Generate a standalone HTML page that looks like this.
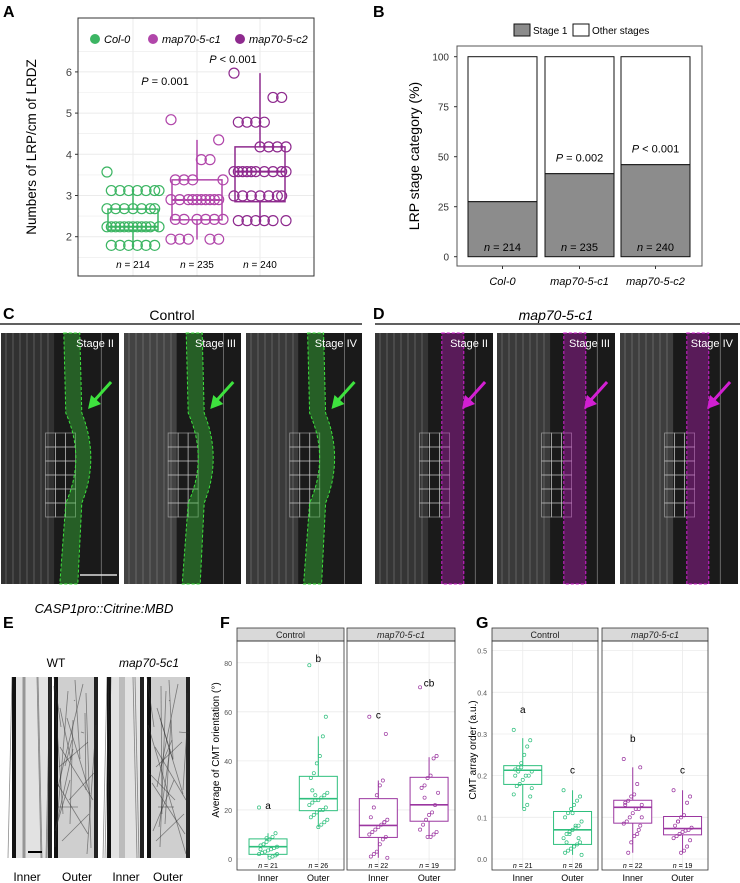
<!DOCTYPE html>
<html><head><meta charset="utf-8"><style>
body{margin:0;background:#fff}
svg{display:block;font-family:"Liberation Sans",Arial,sans-serif}
</style></head><body>
<svg id="fig" width="740" height="883" viewBox="0 0 740 883" xmlns="http://www.w3.org/2000/svg">
<text x="3" y="17" font-size="16" font-weight="bold">A</text>
<text x="373" y="17" font-size="16" font-weight="bold">B</text>
<text x="3" y="319" font-size="16" font-weight="bold">C</text>
<text x="373" y="319" font-size="16" font-weight="bold">D</text>
<text x="3" y="628" font-size="16" font-weight="bold">E</text>
<text x="220" y="628" font-size="16" font-weight="bold">F</text>
<text x="476" y="628" font-size="16" font-weight="bold">G</text>

<g id="pa"></g>
<g id="pb"></g>

<text x="172" y="320" font-size="14" text-anchor="middle">Control</text>
<line x1="0" y1="324" x2="362" y2="324" stroke="#000" stroke-width="1.2"/>
<text x="556" y="320" font-size="14" font-style="italic" text-anchor="middle">map70-5-c1</text>
<line x1="375" y1="324" x2="740" y2="324" stroke="#000" stroke-width="1.2"/>
<g id="micro"></g>

<text x="104" y="613" font-size="13" font-style="italic" text-anchor="middle">CASP1pro::Citrine:MBD</text>
<text x="56" y="667" font-size="12" text-anchor="middle">WT</text>
<text x="149" y="667" font-size="12" font-style="italic" text-anchor="middle">map70-5c1</text>
<g id="pe"></g>
<text x="27" y="881" font-size="12" text-anchor="middle">Inner</text>
<text x="77" y="881" font-size="12" text-anchor="middle">Outer</text>
<text x="126" y="881" font-size="12" text-anchor="middle">Inner</text>
<text x="168" y="881" font-size="12" text-anchor="middle">Outer</text>

<g id="pf"></g>
<g id="pg"></g>
</svg>
<script>
const aGroups = ["Col-0","map70-5-c1","map70-5-c2"];
const aColors = ["#3cb563","#b146aa","#8e2a8e"];
const aCol0 = [3.57,3.12,3.12,3.12,3.12,3.12,3.12,3.12,2.68,2.68,2.68,2.68,2.68,2.68,2.68,2.24,2.24,2.24,2.24,2.24,2.24,2.24,2.24,2.24,2.24,2.24,2.24,1.79,1.79,1.79,1.79,1.79,1.79];
const aC1 = [4.84,4.35,3.87,3.87,3.38,3.38,3.38,3.38,2.9,2.9,2.9,2.9,2.9,2.9,2.9,2.9,2.9,2.9,2.42,2.42,2.42,2.42,2.42,2.42,1.94,1.94,1.94,1.94,1.94];
const aC2 = [5.97,5.38,5.38,4.78,4.78,4.78,4.78,4.18,4.18,4.18,4.18,3.58,3.58,3.58,3.58,3.58,3.58,3.58,3.58,3.58,3.58,2.99,2.99,2.99,2.99,2.99,2.99,2.99,2.39,2.39,2.39,2.39,2.39,2.39];
const aQ1 = [2.16,2.41,2.85];
const aMed = [2.24,2.89,3.58];
const aQ3 = [2.67,3.38,4.18];
const aLo = [1.8,1.93,2.38];
const aHi = [3.1,4.35,5.97];
const aN = ["214","235","240"];
const aTicks = [2,3,4,5,6];
const bGroups = ["Col-0","map70-5-c1","map70-5-c2"];
const bStage1 = [27.5,41.5,46];
const bTicks = [0,25,50,75,100];
const bP = ["","P = 0.002","P < 0.001"];
const fCats = ["Inner","Outer"];
const fQ1 = [1.9,19.7,8.8,15.4];
const fMed = [5.0,24.6,13.7,22.1];
const fQ3 = [8.2,33.7,24.6,33.3];
const fLo = [0.5,13,0.5,8.5];
const fHi = [10.5,50,32,41.5];
const fLetters = ["a","b","c","cb"];
const fLetterY = [22,82,59,72];
const fN = ["21","26","22","19"];
const fPts = [[21,10.5,9,8,7,6,5.5,5,4.5,4,3.5,3,2.5,2,1.5,1,0.5,8.5,6,4,2],
  [79,58,50,42,39,35,33,27,26,25,24,24,23,22,21,20,20,19,18,17,16,15,14,13,26,28],
  [58,51,32,30,26,21,17,16,15,14,13,12,11,10,9,8,6,3,2,1,0.5,15],
  [70,42,41,34,33,30,29,27,22,19,18,16,14,12,11,10,9,9,25]];
const fTicks = [0,20,40,60,80];
const gQ1 = [0.179,0.035,0.086,0.058];
const gMed = [0.213,0.070,0.124,0.073];
const gQ3 = [0.224,0.114,0.141,0.102];
const gLo = [0.122,0.01,0.015,0.015];
const gHi = [0.29,0.165,0.22,0.165];
const gLetters = ["a","c","b","c"];
const gLetterY = [0.36,0.215,0.29,0.215];
const gN = ["21","26","22","19"];
const gPts = [[0.31,0.285,0.27,0.25,0.23,0.22,0.215,0.21,0.2,0.2,0.19,0.18,0.175,0.155,0.15,0.13,0.12,0.22,0.21,0.2,0.17],
  [0.165,0.15,0.14,0.13,0.12,0.11,0.1,0.09,0.08,0.075,0.07,0.065,0.06,0.05,0.04,0.035,0.03,0.025,0.02,0.015,0.01,0.05,0.08,0.11,0.06,0.04],
  [0.24,0.22,0.18,0.155,0.15,0.14,0.135,0.13,0.12,0.12,0.11,0.1,0.09,0.085,0.08,0.06,0.055,0.04,0.015,0.13,0.1,0.07],
  [0.165,0.15,0.135,0.105,0.1,0.09,0.08,0.075,0.07,0.068,0.065,0.06,0.055,0.05,0.045,0.03,0.02,0.015,0.09]];
const gTicks = [0,0.1,0.2,0.3,0.4,0.5];

const NS="http://www.w3.org/2000/svg";
function mk(parent,tag,attrs,txt){const e=document.createElementNS(NS,tag);for(const k in attrs)e.setAttribute(k,attrs[k]);if(txt!==undefined)e.textContent=txt;parent.appendChild(e);return e;}
function jit(i,w){return (((i*37)%13)-6)/6*w;}

(function(){
 const g=document.getElementById('pa');
 const y=v=>236.7-(v-2)*41.2;
 const xs=[133,197,260];
 const x0=78,x1=314,y0=18,y1=276;
 mk(g,'rect',{x:x0,y:y0,width:x1-x0,height:y1-y0,fill:'#fff'});
 for(let v=1.5;v<=6.5;v+=0.5){const l=mk(g,'line',{x1:x0,x2:x1,y1:y(v),y2:y(v),stroke:'#ebebeb','stroke-width':v%1?0.6:1});}
 xs.forEach(x=>{mk(g,'line',{x1:x,x2:x,y1:y0,y2:y1,stroke:'#ebebeb','stroke-width':1});});
 mk(g,'rect',{x:x0,y:y0,width:x1-x0,height:y1-y0,fill:'none',stroke:'#333','stroke-width':1});
 aTicks.forEach(t=>{const tx=mk(g,'text',{x:x0-6,y:y(t)+4,'font-size':11,'text-anchor':'end',fill:'#444'},String(t));mk(g,'line',{x1:x0-3,x2:x0,y1:y(t),y2:y(t),stroke:'#333'});});
 const yt=mk(g,'text',{x:0,y:0,'font-size':13.5,'text-anchor':'middle',transform:'translate(36,147) rotate(-90)'},'Numbers of LRP/cm of LRDZ');
 
 const sets=[aCol0,aC1,aC2];
 sets.forEach((arr,gi)=>{
  const c=aColors[gi],x=xs[gi];
  const bx=mk(g,'g',{});
  mk(bx,'line',{x1:x,x2:x,y1:y(aHi[gi]),y2:y(aQ3[gi]),stroke:c,'stroke-width':1.5});
  mk(bx,'line',{x1:x,x2:x,y1:y(aQ1[gi]),y2:y(aLo[gi]),stroke:c,'stroke-width':1.5});
  mk(bx,'rect',{x:x-25,y:y(aQ3[gi]),width:50,height:y(aQ1[gi])-y(aQ3[gi]),fill:'none',stroke:c,'stroke-width':1.5});
  mk(bx,'line',{x1:x-25,x2:x+25,y1:y(aMed[gi]),y2:y(aMed[gi]),stroke:c,'stroke-width':2});
  arr.forEach((v,i)=>{const p=mk(g,'circle',{cx:x+jit(i,26),cy:y(v),r:5,fill:'none',stroke:c,'stroke-width':1.2});});
  const n=mk(g,'text',{x:x,y:268,'font-size':10,'text-anchor':'middle'});
  mk(n,'tspan',{'font-style':'italic'},'n');mk(n,'tspan',{},' = '+aN[gi]);
 });
 const p1=mk(g,'text',{x:165,y:85,'font-size':11,'text-anchor':'middle'});mk(p1,'tspan',{'font-style':'italic'},'P');mk(p1,'tspan',{},' = 0.001');
 const p2=mk(g,'text',{x:233,y:63,'font-size':11,'text-anchor':'middle'});mk(p2,'tspan',{'font-style':'italic'},'P');mk(p2,'tspan',{},' < 0.001');
 const lx=[95,153,240];
 aGroups.forEach((nm,i)=>{const lg=mk(g,'g',{});
  mk(lg,'circle',{cx:lx[i],cy:39,r:5,fill:aColors[i]});mk(lg,'text',{x:lx[i]+9,y:43,'font-size':11,'font-style':'italic'},nm);});
})();

(function(){
 const g=document.getElementById('pb');
 const y=v=>256.7-v*2;
 const x0=457,x1=702,y0=46,y1=266;
 const bx=[468,545,621],bw=69;
 mk(g,'rect',{x:x0,y:y0,width:x1-x0,height:y1-y0,fill:'none',stroke:'#555','stroke-width':1});
 bTicks.forEach(t=>{const tx=mk(g,'text',{x:x0-8,y:y(t)+4,'font-size':10,'text-anchor':'end',fill:'#333'},String(t));mk(g,'line',{x1:x0-3,x2:x0,y1:y(t),y2:y(t),stroke:'#333'});});
 const yt=mk(g,'text',{x:0,y:0,'font-size':14,'text-anchor':'middle',transform:'translate(419,156) rotate(-90)'},'LRP stage category (%)');
 
 bGroups.forEach((nm,i)=>{
  const x=bx[i];
  const r1=mk(g,'rect',{x:x,y:y(100),width:bw,height:y(bStage1[i])-y(100),fill:'#fff',stroke:'#111','stroke-width':1});
  const r2=mk(g,'rect',{x:x,y:y(bStage1[i]),width:bw,height:y(0)-y(bStage1[i]),fill:'#8c8c8c',stroke:'#111','stroke-width':1});
  const n=mk(g,'text',{x:x+bw/2,y:251,'font-size':11,'text-anchor':'middle'});mk(n,'tspan',{'font-style':'italic'},'n');mk(n,'tspan',{},' = '+aN[i]);
  if(bP[i]){const p=mk(g,'text',{x:x+bw/2,y:y(bStage1[i])-12,'font-size':11,'text-anchor':'middle'});mk(p,'tspan',{'font-style':'italic'},bP[i].slice(0,1));mk(p,'tspan',{},bP[i].slice(1));}
  mk(g,'line',{x1:x+bw/2,x2:x+bw/2,y1:y1,y2:y1+3,stroke:'#333'});
  const xl=mk(g,'text',{x:x+bw/2,y:285,'font-size':11,'font-style':'italic','text-anchor':'middle'},nm);
 });
 const l1=mk(g,'g',{});
 mk(l1,'rect',{x:514,y:24,width:16,height:12,fill:'#8c8c8c',stroke:'#111'});mk(l1,'text',{x:533,y:34,'font-size':10},'Stage 1');
 const l2=mk(g,'g',{});
 mk(l2,'rect',{x:573,y:24,width:16,height:12,fill:'#fff',stroke:'#111'});mk(l2,'text',{x:592,y:34,'font-size':10},'Other stages');
})();

(function(){
 const g=document.getElementById('micro');
 const imgs=[[1,119,'#3ee23e','Stage II',0.25],[124,241,'#3ee23e','Stage III',0.45],[246,362,'#3ee23e','Stage IV',0.35],
             [375,493,'#d21fd2','Stage II',0.3],[497,615,'#d21fd2','Stage III',0.35],[620,738,'#d21fd2','Stage IV',0.4]];
 imgs.forEach((m,i)=>{
  const [a,b,col,lab,bright]=m;const w=b-a;const top=333,h=251;
  const im=mk(g,'g',{});
  mk(im,'rect',{x:a,y:top,width:w,height:h,fill:'#1a1a1a'});
  mk(im,'rect',{x:a,y:top,width:w*0.45,height:h,fill:'#fff','fill-opacity':bright*0.4});
  for(let k=0;k<7;k++){mk(im,'line',{x1:a+5+k*7,x2:a+5+k*7,y1:top,y2:top+h,stroke:'#bbb','stroke-opacity':0.4,'stroke-width':0.8});}
  mk(im,'line',{x1:a+w*0.85,x2:a+w*0.85,y1:top,y2:top+h,stroke:'#bbb','stroke-opacity':0.6,'stroke-width':0.8});
  for(let r=0;r<6;r++)for(let c=0;c<3;c++){mk(im,'rect',{x:a+w*0.42+c*10-5,y:top+100+r*14,width:10,height:14,fill:'none',stroke:'#ccc','stroke-opacity':0.6,'stroke-width':0.8});}
  const cx=a+w*0.6;
  if(i<3){
   mk(im,'path',{d:`M${cx-8},${top} L${cx+8},${top} L${cx+10},${top+80} Q${cx+28},${top+125} ${cx+10},${top+170} L${cx+6},${top+h} L${cx-12},${top+h} L${cx-6},${top+170} Q${cx+14},${top+125} ${cx-6},${top+80} Z`,fill:col,'fill-opacity':0.35,stroke:col,'stroke-width':1,'stroke-dasharray':'3,2'});
  } else {
   mk(im,'rect',{x:cx-4,y:top,width:22,height:h,fill:col,'fill-opacity':0.35,stroke:col,'stroke-width':1,'stroke-dasharray':'3,2'});
  }
  const ax=a+w*0.78,ay=top+73;
  mk(im,'line',{x1:ax+18,x2:ax,y1:ay-24,y2:ay-4,stroke:col,'stroke-width':3});
  mk(im,'path',{d:`M${ax-5},${ay+3} L${ax-2},${ay-11} L${ax+8},${ay-2} Z`,fill:col});
  mk(im,'text',{x:b-5,y:top+14,'font-size':11,fill:'#fff','text-anchor':'end'},lab);
 });
 const sb=mk(g,'line',{x1:80,x2:117,y1:575,y2:575,stroke:'#ddd','stroke-width':1.5});
})();

(function(){
 const g=document.getElementById('pe');
 const xs=[[12,52,0],[54,98,1],[107,144,0],[147,190,1]];
 xs.forEach(([a,b,outer],i)=>{
  const im=mk(g,'g',{});
  const top=677,h=181,w=b-a;
  mk(im,'rect',{x:a,y:top,width:w,height:h,fill:outer?'#cfcfcf':'#e2e2e2'});
  mk(im,'rect',{x:a,y:top,width:4,height:h,fill:'#111'});mk(im,'rect',{x:b-4,y:top,width:4,height:h,fill:'#222'});
  for(let k=0;k<(outer?22:8);k++){
   const x1=a+((k*13)%w),x2=outer?a+((k*29+7)%w):x1+((k%3)-1)*4;
   const y1=top+((k*41)%h)*(outer?1:0),y2=outer?top+((k*67+50)%h):top+h;
   mk(im,'line',{x1:x1,x2:x2,y1:y1,y2:y2,stroke:'#333','stroke-opacity':0.55,'stroke-width':0.8});
  }
 });
 mk(g,'line',{x1:28,x2:42,y1:852,y2:852,stroke:'#000','stroke-width':2});
})();

function facet(gid,panels,cats,yfun,ticks,tickFmt,title,Q1,Med,Q3,Lo,Hi,Pts,Letters,LetterY,N,titleX){
 const g=document.getElementById(gid);
 const sTop=628,sBot=641,pBot=870;
 const cols=['#2ebf7d','#2ebf7d','#9b36a0','#9b36a0'];
 const cx=[];
 panels.forEach((p,pi)=>{
  const [x0,x1,label,ital]=p;
  const st=mk(g,'rect',{x:x0,y:sTop,width:x1-x0,height:sBot-sTop,fill:'#d9d9d9',stroke:'#333','stroke-width':0.8});
  mk(g,'text',{x:(x0+x1)/2,y:sBot-3,'font-size':9,'text-anchor':'middle','font-style':ital?'italic':'normal',fill:'#222'},label);
  ticks.forEach(t=>{mk(g,'line',{x1:x0,x2:x1,y1:yfun(t),y2:yfun(t),stroke:'#ebebeb','stroke-width':0.8});});
  const c0=x0+(x1-x0)*0.29,c1=x0+(x1-x0)*0.76;cx.push(c0,c1);
  [c0,c1].forEach(c=>mk(g,'line',{x1:c,x2:c,y1:sBot,y2:pBot,stroke:'#ebebeb','stroke-width':0.8}));
  mk(g,'rect',{x:x0,y:sBot,width:x1-x0,height:pBot-sBot,fill:'none',stroke:'#333','stroke-width':0.8});
  cats.forEach((c,ci)=>{const t=mk(g,'text',{x:ci?c1:c0,y:881,'font-size':9,'text-anchor':'middle'},c);});
 });
 ticks.forEach(t=>{const tx=mk(g,'text',{x:panels[0][0]-5,y:yfun(t)+3,'font-size':7,'text-anchor':'end',fill:'#555'},tickFmt(t));});
 const yt=mk(g,'text',{x:0,y:0,'font-size':10,'text-anchor':'middle',transform:`translate(${titleX},750) rotate(-90)`},title);
 for(let i=0;i<4;i++){
  const c=cols[i],x=cx[i];
  const bx=mk(g,'g',{});
  mk(bx,'line',{x1:x,x2:x,y1:yfun(Hi[i]),y2:yfun(Lo[i]),stroke:c,'stroke-width':1});
  mk(bx,'rect',{x:x-19,y:yfun(Q3[i]),width:38,height:yfun(Q1[i])-yfun(Q3[i]),fill:'#fff',stroke:c,'stroke-width':1});
  mk(bx,'line',{x1:x-19,x2:x+19,y1:yfun(Med[i]),y2:yfun(Med[i]),stroke:c,'stroke-width':1.6});
  Pts[i].forEach((v,k)=>{const p=mk(g,'circle',{cx:x+jit(k,9),cy:yfun(v),r:1.6,fill:'none',stroke:c,'stroke-width':0.7});});
  const lt=mk(g,'text',{x:x,y:yfun(LetterY[i])+4,'font-size':10,'text-anchor':'middle'},Letters[i]);
  const n=mk(g,'text',{x:x,y:868,'font-size':7,'text-anchor':'middle'});mk(n,'tspan',{'font-style':'italic'},'n');mk(n,'tspan',{},' = '+N[i]);
 }
}
facet('pf',[[237,344,'Control',false],[347,455,'map70-5-c1',true]],fCats,v=>859-v*2.453,fTicks,t=>String(t),'Average of CMT orientation (°)',fQ1,fMed,fQ3,fLo,fHi,fPts,fLetters,fLetterY,fN,219);
facet('pg',[[492,598,'Control',false],[602,708,'map70-5-c1',true]],fCats,v=>859-v*416.7,gTicks,t=>t.toFixed(1),'CMT array order (a.u.)',gQ1,gMed,gQ3,gLo,gHi,gPts,gLetters,gLetterY,gN,476);
</script>
</body></html>
